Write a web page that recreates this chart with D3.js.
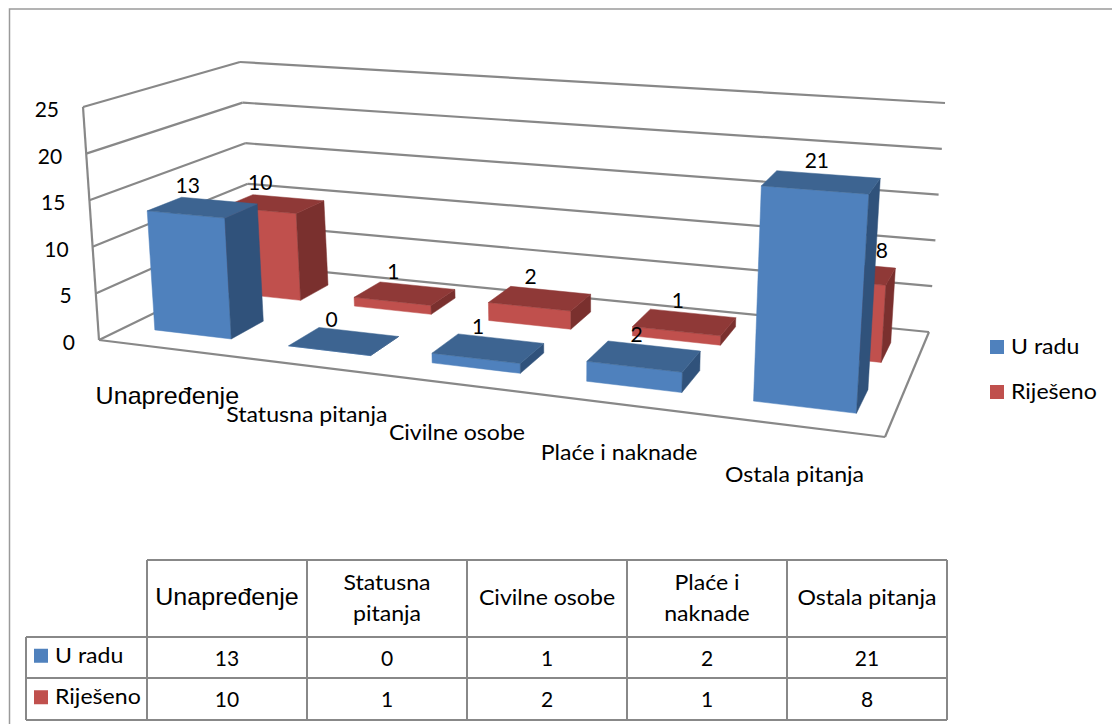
<html>
<head>
<meta charset="UTF-8">
<title>chart</title>
<style>
    body { margin: 0; background: #fff; }
    text { font-family: Lato, "Open Sans", sans-serif; fill: #000; }
</style>
</head>
<body>
<script src="https://d3js.org/d3.v7.min.js"></script>
<script>
const categories = ["Unapređenje", "Statusna pitanja", "Civilne osobe", "Plaće i naknade", "Ostala pitanja"]
const tableCategories = [["Unapređenje"], ["Statusna", "pitanja"], ["Civilne osobe"], ["Plaće i", "naknade"], ["Ostala pitanja"]]
const seriesNames = ["U radu", "Riješeno"]
const uRadu = [13, 0, 1, 2, 21]
const rijeseno = [10, 1, 2, 1, 8]
const yTicks = [0, 5, 10, 15, 20, 25]

const colors = {
    "U radu": { front: "#4F81BD", top: "#3D6491", side: "#30527B" },
    "Riješeno": { front: "#C0504D", top: "#8F3937", side: "#7A302E" }
}
const gridColor = "#888888"

const svg = d3.select("body").append("svg")
    .attr("width", 1112)
    .attr("height", 724)

// unit square -> quad, so the floor and the ceiling of the 3d box get a perspective
function quad_map(p00, p10, p11, p01) {
    let dx1 = p10[0] - p11[0], dx2 = p01[0] - p11[0], sx = p00[0] - p10[0] + p11[0] - p01[0]
    let dy1 = p10[1] - p11[1], dy2 = p01[1] - p11[1], sy = p00[1] - p10[1] + p11[1] - p01[1]
    let det = dx1 * dy2 - dx2 * dy1
    let g = (sx * dy2 - dx2 * sy) / det
    let h = (dx1 * sy - sx * dy1) / det
    let a = p10[0] - p00[0] + g * p10[0], b = p01[0] - p00[0] + h * p01[0]
    let d = p10[1] - p00[1] + g * p10[1], e = p01[1] - p00[1] + h * p01[1]
    return (u, v) => {
        let w = g * u + h * v + 1
        return [(a * u + b * v + p00[0]) / w, (d * u + e * v + p00[1]) / w]
    }
}

const floorMap = quad_map([99, 340], [885, 437], [929, 332], [253, 265])
const ceilMap = quad_map([83, 107], [902, 167], [945, 103], [240, 62])
const yScale = d3.scaleLinear().domain([0, 25]).range([0, 1])

function project(u, v, value) {
    let f = floorMap(u, v), c = ceilMap(u, v), t = yScale(value)
    return [f[0] + (c[0] - f[0]) * t, f[1] + (c[1] - f[1]) * t]
}

const uBand = d3.scaleBand().domain(categories).range([0.002, 1.002]).paddingInner(0.42).paddingOuter(0.21)
const vBand = d3.scaleBand().domain(seriesNames).range([0, 1]).paddingInner(0.558).paddingOuter(0.33)

function line_3d(a, b) {
    svg.append("line")
        .attr("x1", a[0]).attr("y1", a[1])
        .attr("x2", b[0]).attr("y2", b[1])
        .attr("stroke", gridColor)
        .attr("stroke-width", 2.2)
}

// the office font is a bit wider than what is installed here
function put_text(x, y, str, size, anchor, stretch, family) {
    let t = svg.append("text")
        .attr("transform", "translate(" + x + "," + y + ") scale(" + (stretch || 1) + ",1)")
        .attr("text-anchor", anchor || "middle")
        .attr("font-size", size)
        .text(str)
    if (family) t.style("font-family", family)
    return t
}

function label_text(x, y, str, anchor) {
    if (str == "Unapređenje") return put_text(x, y, str, 23, anchor, 1.09, "'Liberation Sans'")
    return put_text(x, y, str, 21, anchor, 1.1)
}

// outer frame, the right side is cut off in the original
svg.append("path")
    .attr("d", "M9.5,724V9H1112")
    .attr("fill", "none")
    .attr("stroke", "#9A9A9A")
    .attr("stroke-width", 1.5)

// walls and floor
yTicks.forEach(t => {
    line_3d(project(0, 0, t), project(0, 1, t))
    line_3d(project(0, 1, t), project(1, 1, t))
})
line_3d(project(0, 0, 0), project(0, 0, 25))
line_3d(project(0, 0, 0), project(1, 0, 0))
line_3d(project(1, 0, 0), project(1, 1, 0))

yTicks.forEach(t => {
    let p = project(0, 0, t)
    put_text(p[0] - 24, p[1] + 10, t, 21, "end")
})

categories.forEach(cat => {
    let p = project(uBand(cat) + uBand.bandwidth() / 2, 0, 0)
    label_text(p[0] + 1, p[1] + 56, cat)
})

function draw_bar(name, cat, value) {
    let u0 = uBand(cat), u1 = u0 + uBand.bandwidth()
    let v0 = vBand(name), v1 = v0 + vBand.bandwidth()
    let c = colors[name]
    let face = (pts, fill) => svg.append("polygon")
        .attr("points", pts.map(p => p.join(",")).join(" "))
        .attr("fill", fill)
        .attr("stroke", fill)
        .attr("stroke-width", 0.5)
    face([project(u0, v0, 0), project(u1, v0, 0), project(u1, v0, value), project(u0, v0, value)], c.front)
    face([project(u1, v0, 0), project(u1, v1, 0), project(u1, v1, value), project(u1, v0, value)], c.side)
    face([project(u0, v0, value), project(u1, v0, value), project(u1, v1, value), project(u0, v1, value)], c.top)
}

const seriesValues = { "U radu": uRadu, "Riješeno": rijeseno }

// back series first, the front one covers it
seriesNames.slice().reverse().forEach(name => {
    categories.forEach((cat, i) => draw_bar(name, cat, seriesValues[name][i]))
})

seriesNames.forEach(name => {
    categories.forEach((cat, i) => {
        let p = project(uBand(cat) + uBand.bandwidth() / 2, vBand(name) + vBand.bandwidth() / 2, seriesValues[name][i])
        let dx = -15 + (p[0] - 200) * 0.017
        // this label sits beside the tall front bar so it stays readable
        if (name == "Riješeno" && cat == "Ostala pitanja") dx += 43
        put_text(p[0] + dx, p[1] - 14, seriesValues[name][i], 21)
    })
})

// legend
const legendY = d3.scalePoint().domain(seriesNames).range([347, 392])
seriesNames.forEach(name => {
    svg.append("rect")
        .attr("x", 990).attr("y", legendY(name) - 7)
        .attr("width", 14).attr("height", 14)
        .attr("fill", colors[name].front)
    put_text(1011, legendY(name) + 7, name, 21, "start", 1.1)
})

// data table
const colX = d3.scaleBand().domain(categories).range([147, 947])
const rowY = d3.scaleBand().domain(seriesNames).range([637, 720])

function table_line(x1, y1, x2, y2) {
    svg.append("line")
        .attr("x1", x1).attr("y1", y1).attr("x2", x2).attr("y2", y2)
        .attr("stroke", gridColor)
        .attr("stroke-width", 2)
}
table_line(147, 560, 947, 560)
table_line(26, 637, 947, 637)
table_line(26, 678, 947, 678)
table_line(26, 720, 947, 720)
table_line(26, 637, 26, 720)
table_line(147, 560, 147, 720)
categories.forEach(cat => table_line(colX(cat) + colX.bandwidth(), 560, colX(cat) + colX.bandwidth(), 720))

categories.forEach((cat, i) => {
    let lines = tableCategories[i]
    let cx = colX(cat) + colX.bandwidth() / 2
    lines.forEach((t, j) => {
        label_text(cx, 605 + (j - (lines.length - 1) / 2) * 31, t)
    })
    seriesNames.forEach(name => {
        put_text(cx, rowY(name) + rowY.bandwidth() / 2 + 8, seriesValues[name][i], 21)
    })
})

seriesNames.forEach(name => {
    svg.append("rect")
        .attr("x", 34).attr("y", rowY(name) + rowY.bandwidth() / 2 - 9)
        .attr("width", 14).attr("height", 14)
        .attr("fill", colors[name].front)
    put_text(55, rowY(name) + rowY.bandwidth() / 2 + 5, name, 21, "start", 1.1)
})
</script>
</body>
</html>
